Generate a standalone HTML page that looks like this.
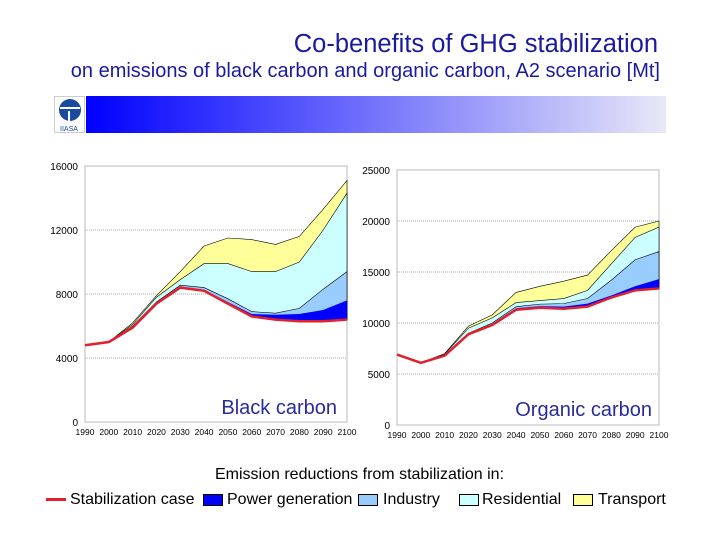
<!DOCTYPE html>
<html><head><meta charset="utf-8"><style>
body{margin:0;width:720px;height:540px;background:#fff;font-family:"Liberation Sans",sans-serif;position:relative;overflow:hidden}
.t{position:absolute;white-space:nowrap}
</style></head><body>
<div class="t" style="right:62px;top:30px;font-size:25.5px;color:#1a1aa0">Co-benefits of GHG stabilization</div>
<div class="t" style="right:60px;top:60px;font-size:20px;color:#1a1aa0">on emissions of black carbon and organic carbon, A2 scenario [Mt]</div>
<div style="position:absolute;left:86px;top:96px;width:580px;height:37px;background:linear-gradient(90deg,#0000ff,#e8e8f8)"></div>
<svg style="position:absolute;left:54px;top:96px" width="32" height="38"><rect x="0.5" y="0.5" width="30" height="36" fill="#fff" stroke="#ccc"/><circle cx="16" cy="14" r="11" fill="#1a4aa0"/><rect x="6" y="11" width="20" height="2" fill="#fff"/><rect x="14" y="15" width="2" height="10" fill="#fff"/><text x="15" y="35" font-size="7" text-anchor="middle" fill="#1a4aa0" font-family="Liberation Sans">IIASA</text></svg>
<svg id="chart" width="720" height="540" style="position:absolute;left:0;top:0"></svg>
<div class="t" style="left:215px;top:466px;font-size:16px;color:#000">Emission reductions from stabilization in:</div>
<div style="position:absolute;left:0;top:490px;font-size:16px">
<div><div style="position:absolute;left:46px;top:8px;width:20px;height:3px;background:#e0202c"></div><div class="t" style="left:70px;top:1px">Stabilization case</div></div>
<div><div style="position:absolute;left:203px;top:4px;width:18px;height:10px;background:#0000ff;border:1px solid #000"></div><div class="t" style="left:227px;top:1px">Power generation</div></div>
<div><div style="position:absolute;left:358px;top:4px;width:18px;height:10px;background:#99ccff;border:1px solid #000"></div><div class="t" style="left:383px;top:1px">Industry</div></div>
<div><div style="position:absolute;left:459px;top:4px;width:18px;height:10px;background:#ccffff;border:1px solid #000"></div><div class="t" style="left:482px;top:1px">Residential</div></div>
<div><div style="position:absolute;left:573px;top:4px;width:18px;height:10px;background:#ffff99;border:1px solid #000"></div><div class="t" style="left:598px;top:1px">Transport</div></div>
</div>
<script>
const years=[1990,2000,2010,2020,2030,2040,2050,2060,2070,2080,2090,2100];
const bcStab=[4800,5000,5900,7400,8400,8200,7400,6600,6400,6300,6300,6400];
const bcPower=[4800,5000,5950,7450,8450,8250,7500,6750,6700,6750,7000,7600];
const bcIndustry=[4800,5000,6000,7500,8550,8400,7700,6900,6800,7100,8300,9400];
const bcResidential=[4800,5000,6100,7800,8900,9900,9900,9400,9400,10000,12000,14300];
const bcTransport=[4800,5000,6200,7900,9400,11000,11500,11400,11100,11600,13300,15100];
const ocStab=[6900,6100,6800,8900,9800,11300,11500,11400,11600,12500,13200,13400];
const ocPower=[6900,6100,6850,8950,9900,11450,11650,11600,11900,12700,13600,14300];
const ocIndustry=[6900,6100,6900,9000,10000,11600,11850,11900,12400,14200,16200,17000];
const ocResidential=[6900,6100,6950,9500,10500,12000,12200,12400,13200,15800,18400,19400];
const ocTransport=[6900,6100,7000,9700,10800,13000,13600,14100,14700,17100,19400,20000];
const bcTicks=[0,4000,8000,12000,16000];
const ocTicks=[0,5000,10000,15000,20000,25000];
const NS='http://www.w3.org/2000/svg';
const svg=document.getElementById('chart');
function mk(t,a,p){const e=document.createElementNS(NS,t);for(const k in a)e.setAttribute(k,a[k]);(p||svg).appendChild(e);return e;}
function draw(name,x0,x1,yTop,yBot,max,ticks,layers,label,lx,ly){
  const g=mk('g',{});
  
  
  const X=i=>x0+(x1-x0)*i/(years.length-1);
  const Y=v=>yBot-(yBot-yTop)*v/max;
  mk('rect',{x:x0,y:yTop,width:x1-x0,height:yBot-yTop,fill:'#fff',stroke:'#bbb'},g);
  ticks.forEach(t=>{
    if(t>0&&t<max) mk('line',{x1:x0,x2:x1,y1:Y(t),y2:Y(t),stroke:'#aaa','stroke-dasharray':'1,1'},g);
    const tx=mk('text',{x:x0-7,y:Y(t)+4,'font-size':10,'text-anchor':'end','font-family':'Liberation Sans'},g);tx.textContent=t;
  });
  years.forEach((y,i)=>{const tx=mk('text',{x:X(i),y:yBot+13,'font-size':8.5,'text-anchor':'middle','font-family':'Liberation Sans'},g);tx.textContent=y;});
  const cols=['#ffff99','#ccffff','#99ccff','#0000ff'];
  const names=['transport-area','residential-area','industry-area','power-area'];
  for(let k=0;k<4;k++){
    const top=layers[4-k],bot=layers[0];
    let d=top.map((v,i)=>(i?'L':'M')+X(i)+','+Y(v)).join('');
    for(let i=bot.length-1;i>=0;i--) d+='L'+X(i)+','+Y(bot[i]);
    const p=mk('path',{d:d+'Z',fill:cols[k],stroke:k<3?'#000':'none','stroke-width':0.6},g);
    
    
  }
  const ln=mk('path',{d:layers[0].map((v,i)=>(i?'L':'M')+X(i)+','+Y(v)).join(''),fill:'none',stroke:'#e0202c','stroke-width':2.5},g);
  
  
  const lb=mk('text',{x:lx,y:ly,'font-size':20,fill:'#2a2aa0','font-family':'Liberation Sans','text-anchor':'end'},g);lb.textContent=label;
}
draw('black-carbon-chart',85,347,166,422,16000,bcTicks,[bcStab,bcPower,bcIndustry,bcResidential,bcTransport],'Black carbon',337,414);
draw('organic-carbon-chart',397,659,170,425,25000,ocTicks,[ocStab,ocPower,ocIndustry,ocResidential,ocTransport],'Organic carbon',652,416);
</script>
</body></html>
